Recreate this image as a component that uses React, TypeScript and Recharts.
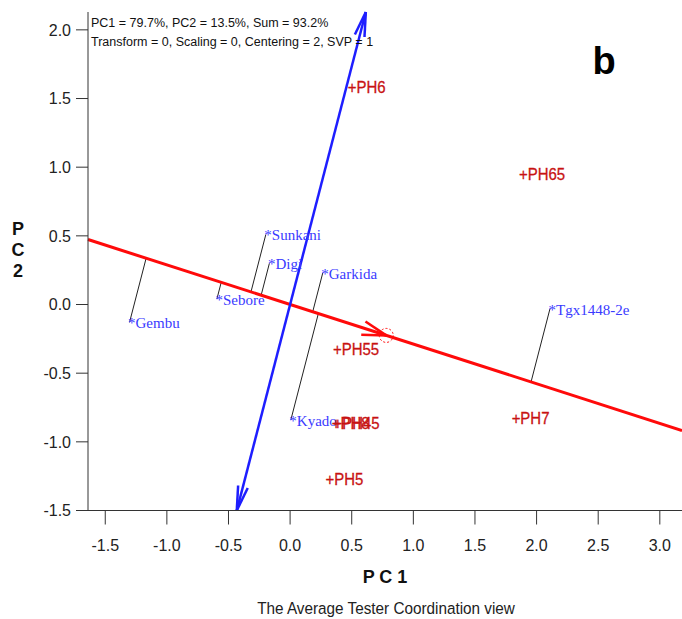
import { ScatterChart, Scatter, XAxis, YAxis, ReferenceLine } from 'recharts';

// testers (environments) - blue "*" labels
const testerNames = ['Sunkani', 'Digi', 'Garkida', 'Sebore', 'Gembu', 'Tgx1448-2e', 'Kyado'];
const testerX = [-0.197, -0.168, 0.265, -0.594, -1.303, 2.109, 0.006];
const testerY = [0.51, 0.30, 0.23, 0.04, -0.13, -0.03, -0.84];

// genotypes - red "+" labels
const genoNames = ['PH6', 'PH65', 'PH55', 'PH8', 'PH45', 'PH7', 'PH5'];
const genoX = [0.50, 1.89, 0.38, 0.37, 0.385, 1.83, 0.32];
const genoY = [1.59, 0.955, -0.317, -0.86, -0.86, -0.82, -1.27];

// average environment coordinate
const aecX = 0.78;
const aecY = -0.225;

const xTicks = [-1.5, -1.0, -0.5, 0.0, 0.5, 1.0, 1.5, 2.0, 2.5, 3.0];
const yTicks = [-1.5, -1.0, -0.5, 0.0, 0.5, 1.0, 1.5, 2.0];
const xDomain: [number, number] = [-1.64, 3.18];
const yDomain: [number, number] = [-1.5, 2.13];

const RED = '#ff0a0a';
const BLUE = '#1e1eff';
const SANS = "'Liberation Sans', Arial, sans-serif";
const SERIF = "'Liberation Serif', 'Times New Roman', serif";

const slope = aecY / aecX;
const perp = -aecY / aecX; // x per unit y along the ATC ordinate

const testerData = testerNames.map((n, i) => ({ name: n, x: testerX[i], y: testerY[i] }));
const genoData = genoNames.map((n, i) => ({ name: n, x: genoX[i], y: genoY[i] }));

// foot of the perpendicular from each tester onto the ATC abscissa
const projections = testerData.map(t => {
  const len = Math.hypot(aecX, aecY);
  const ux = aecX / len, uy = aecY / len;
  const d = t.x * ux + t.y * uy;
  return { from: { x: t.x, y: t.y }, to: { x: d * ux, y: d * uy } };
});

const arms = (x1: number, y1: number, x2: number, y2: number, len: number, ang: number) => {
  const a = Math.atan2(y1 - y2, x1 - x2);
  return [
    [x2 + len * Math.cos(a + ang), y2 + len * Math.sin(a + ang)],
    [x2 + len * Math.cos(a - ang), y2 + len * Math.sin(a - ang)],
  ];
};

const BlueAxis = (p: any) => {
  const { x1, y1, x2, y2 } = p;
  const top = arms(x1, y1, x2, y2, 25, 0.2);
  const bot = arms(x2, y2, x1, y1, 25, 0.2);
  return (
    <g stroke={BLUE} strokeWidth={2.5} fill="none">
      <line x1={x1} y1={y1} x2={x2} y2={y2} />
      {top.map((q, i) => <line key={'t' + i} x1={x2} y1={y2} x2={q[0]} y2={q[1]} />)}
      {bot.map((q, i) => <line key={'b' + i} x1={x1} y1={y1} x2={q[0]} y2={q[1]} />)}
    </g>
  );
};

const RedArrow = (p: any) => {
  const { x1, y1, x2, y2 } = p;
  const head = arms(x1, y1, x2, y2, 25, 0.28);
  return (
    <g stroke={RED} fill="none">
      {head.map((q, i) => <line key={i} x1={x2} y1={y2} x2={q[0]} y2={q[1]} strokeWidth={2.5} />)}
      <circle cx={x2} cy={y2} r={7} strokeWidth={1} strokeDasharray="2 2" />
    </g>
  );
};

const TesterLabel = (p: any) => (
  <text x={p.cx - 1.5} y={p.cy + 6} fontFamily={SERIF} fontSize={15} fill="#3a3aff">
    {'*' + p.payload.name}
  </text>
);

const GenoLabel = (p: any) => (
  <text transform={`translate(${p.cx - 4},${p.cy + 6.5}) scale(0.88,1)`} fontFamily={SANS}
    fontSize={17} fill="#c81212" stroke="#c81212" strokeWidth={0.3}>
    {'+' + p.payload.name}
  </text>
);

const App = () => {
  return (
    <div style={{ position: 'absolute', left: 0, top: 0, width: 682, height: 619, background: '#fff' }}>
      <ScatterChart width={682} height={619} margin={{ top: 12, right: 0, bottom: 68.5, left: 28 }}>
        <XAxis
          type="number" dataKey="x" domain={xDomain} ticks={xTicks} allowDataOverflow
          tickFormatter={(v: number) => v.toFixed(1)} height={40}
          tickSize={14} tickMargin={15}
          stroke="#333" tick={{ fill: '#222', fontSize: 16, fontFamily: SANS }}
        />
        <XAxis xAxisId="top" orientation="top" type="number" domain={xDomain} height={0}
          tick={false} tickLine={false} stroke="#333" allowDataOverflow />
        <YAxis
          type="number" dataKey="y" domain={yDomain} ticks={yTicks} allowDataOverflow
          tickFormatter={(v: number) => v.toFixed(1)} width={60}
          tickSize={12} tickMargin={5}
          stroke="#333" tick={{ fill: '#222', fontSize: 16, fontFamily: SANS }}
        />
        {projections.map((pr, i) => (
          <ReferenceLine key={i} segment={[pr.from, pr.to]} stroke="#222" strokeWidth={1} ifOverflow="visible" />
        ))}
        <ReferenceLine
          segment={[{ x: xDomain[0], y: slope * xDomain[0] }, { x: xDomain[1], y: slope * xDomain[1] }]}
          stroke={RED} strokeWidth={3} ifOverflow="visible"
        />
        <ReferenceLine
          segment={[{ x: 0, y: 0 }, { x: aecX, y: aecY }]}
          ifOverflow="visible" shape={RedArrow}
        />
        <ReferenceLine
          segment={[{ x: perp * yDomain[0], y: yDomain[0] }, { x: perp * yDomain[1], y: yDomain[1] }]}
          ifOverflow="visible" shape={BlueAxis}
        />
        <Scatter data={testerData} isAnimationActive={false} shape={TesterLabel} />
        <Scatter data={genoData} isAnimationActive={false} shape={GenoLabel} />
      </ScatterChart>
      <svg width={682} height={619} style={{ position: 'absolute', left: 0, top: 0, pointerEvents: 'none' }}>
        <text x={91} y={27} fontFamily={SANS} fontSize={12.5} fill="#111">PC1 = 79.7%, PC2 = 13.5%, Sum = 93.2%</text>
        <text x={91} y={46} fontFamily={SANS} fontSize={12.5} fill="#111">Transform = 0, Scaling = 0, Centering = 2, SVP = 1</text>
        <text x={604} y={74} textAnchor="middle" fontFamily={SANS} fontWeight="bold" fontSize={38} fill="#000">b</text>
        <text x={385} y={583} textAnchor="middle" fontFamily={SANS} fontWeight="bold" fontSize={18} fill="#111">P C 1</text>
        <text x={18} y={235} textAnchor="middle" fontFamily={SANS} fontWeight="bold" fontSize={18} fill="#111">P</text>
        <text x={18} y={256} textAnchor="middle" fontFamily={SANS} fontWeight="bold" fontSize={18} fill="#111">C</text>
        <text x={18} y={277} textAnchor="middle" fontFamily={SANS} fontWeight="bold" fontSize={18} fill="#111">2</text>
        <text transform="translate(386,614) scale(0.9,1)" textAnchor="middle" fontFamily={SANS} fontSize={17} fill="#222">
          The Average Tester Coordination view
        </text>
      </svg>
    </div>
  );
};

export default App;
